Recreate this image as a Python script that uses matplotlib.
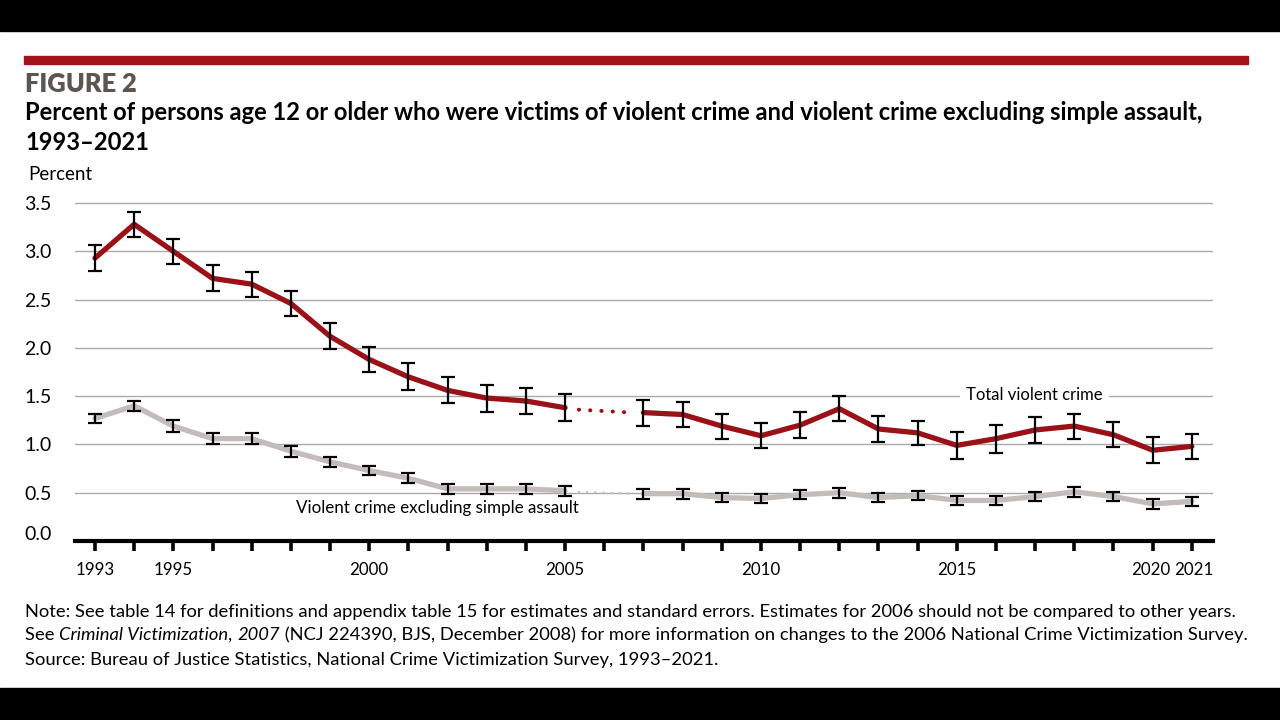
import matplotlib.pyplot as plt
import matplotlib.transforms as mtransforms
import numpy as np
from matplotlib.patches import Rectangle

# 2006 is not plotted (survey redesign), bridged by a dotted line
years = [1993, 1994, 1995, 1996, 1997, 1998, 1999, 2000, 2001, 2002, 2003,
         2004, 2005, 2007, 2008, 2009, 2010, 2011, 2012, 2013, 2014, 2015,
         2016, 2017, 2018, 2019, 2020, 2021]

total = [2.93, 3.28, 3.00, 2.72, 2.66, 2.46, 2.12, 1.88, 1.70, 1.56, 1.48,
         1.45, 1.38, 1.33, 1.31, 1.19, 1.09, 1.20, 1.37, 1.16, 1.12, 0.99,
         1.06, 1.15, 1.19, 1.10, 0.94, 0.98]
total_err = [0.135, 0.13, 0.13, 0.135, 0.13, 0.13, 0.135, 0.13, 0.14, 0.135, 0.14,
             0.135, 0.14, 0.135, 0.13, 0.13, 0.13, 0.135, 0.13, 0.13, 0.125, 0.14,
             0.145, 0.13, 0.13, 0.13, 0.135, 0.13]

serious = [1.27, 1.40, 1.19, 1.06, 1.06, 0.93, 0.82, 0.73, 0.65, 0.54, 0.54,
           0.54, 0.52, 0.49, 0.49, 0.45, 0.44, 0.48, 0.50, 0.45, 0.47, 0.42,
           0.42, 0.46, 0.51, 0.46, 0.385, 0.41]
serious_err = [0.05, 0.05, 0.06, 0.055, 0.055, 0.055, 0.05, 0.05, 0.05, 0.05, 0.05,
               0.05, 0.05, 0.05, 0.05, 0.05, 0.045, 0.05, 0.05, 0.05, 0.05, 0.05,
               0.045, 0.05, 0.05, 0.05, 0.05, 0.05]

yticks = [0.0, 0.5, 1.0, 1.5, 2.0, 2.5, 3.0, 3.5]
xtick_years = [1993, 1995, 2000, 2005, 2010, 2015, 2020, 2021]

title = "Percent of persons age 12 or older who were victims of violent crime and violent crime excluding simple assault,"
note1 = ("Note: See table 14 for definitions and appendix table 15 for estimates and standard errors. "
         "Estimates for 2006 should not be compared to other years.")
note2 = [("See ", "normal"), ("Criminal Victimization", "italic"), (", ", "normal"), ("2007", "italic"),
         (" (NCJ 224390, BJS, December 2008) for more information on changes to the 2006 National Crime Victimization Survey.",
          "normal")]
source = "Source: Bureau of Justice Statistics, National Crime Victimization Survey, 1993\u20132021."

RED = "#9b1118"
GRAY = "#c3bcbb"
FONT = ["Lato", "DejaVu Sans"]

fig = plt.figure(figsize=(12.8, 7.2), dpi=100)
W, H = 1280, 720
renderer = fig.canvas.get_renderer()


def fit(t, width_px):
    # shrink/grow a text so it spans width_px
    w = t.get_window_extent(renderer).width
    t.set_fontsize(t.get_fontsize() * width_px / w)
    return t


# letterbox bands and red rule
fig.add_artist(Rectangle((0, 1 - 31 / H), 1, 31 / H, transform=fig.transFigure, color="black", zorder=0))
fig.add_artist(Rectangle((0, 0), 1, 32 / H, transform=fig.transFigure, color="black", zorder=0))
fig.add_artist(Rectangle((24 / W, 1 - 64 / H), 1224 / W, 8 / H, transform=fig.transFigure, color="#a3141c"))

fit(fig.text(25 / W, 1 - 84 / H, "FIGURE 2", fontsize=18, fontweight="heavy", color="#5d5552",
             family=FONT, va="center"), 112)
t = fit(fig.text(25 / W, 1 - 113 / H, title, fontsize=16, fontweight="bold", family=FONT, va="center"), 1185)
fig.text(25 / W, 1 - 142 / H, "1993\u20132021", fontsize=t.get_fontsize(), fontweight="bold",
         family=FONT, va="center")
fig.text(28 / W, 1 - 175 / H, "Percent", fontsize=13.5, family=FONT, va="center")

# axes: x from 75 to 1213 px, y axis line at 541 px
ax = fig.add_axes([75 / W, 1 - 541 / H, (1213 - 75) / W, (541 - 195) / H])
ax.set_xlim(1992.49, 2021.54)
ax.set_ylim(0, 3.5 + 8 / 96)

yrs = np.array(years)
tot = np.array(total)
ser = np.array(serious)
a = yrs <= 2005
b = yrs >= 2007

for v, err, col, z in [(ser, serious_err, GRAY, 3), (tot, total_err, RED, 4)]:
    ax.plot(yrs[a], v[a], color=col, lw=3.8, solid_capstyle="round", solid_joinstyle="round", zorder=z)
    ax.plot(yrs[b], v[b], color=col, lw=3.8, solid_capstyle="round", solid_joinstyle="round", zorder=z)
    ax.errorbar(yrs, v, yerr=err, fmt="none", ecolor="black", elinewidth=1.6,
                capsize=5, capthick=1.6, zorder=z + 2)

# dotted bridges over 2006
i5 = years.index(2005)
i7 = years.index(2007)
ax.plot([2005.35, 2006.7], [total[i5] - 0.02, total[i7]], color=RED, lw=2.8,
        linestyle=(0, (0.1, 2.8)), dash_capstyle="round", zorder=4)
ax.plot([2005.35, 2006.7], [serious[i5] - 0.01, serious[i7]], color="#c8c2c2", lw=1.8,
        linestyle=(0, (0.1, 3.2)), dash_capstyle="round", zorder=3)

ax.set_yticks(yticks)
ax.set_yticklabels([f"{t:.1f}" for t in yticks], family=FONT, fontsize=14)
ax.yaxis.grid(True, color="#a9a9a9", lw=1.0)
ax.set_axisbelow(True)
ax.tick_params(axis="y", length=0, pad=17)
# the 0.0 label sits a little above the axis line
lab0 = ax.get_yticklabels()[0]
lab0.set_transform(lab0.get_transform() + mtransforms.ScaledTranslation(0, 8 / 100, fig.dpi_scale_trans))

ax.set_xticks(range(1993, 2022))
ax.set_xticklabels([str(y) if y in xtick_years else "" for y in range(1993, 2022)],
                   family=FONT, fontsize=12.2)
ax.tick_params(axis="x", direction="out", length=7, width=2.6, color="black", pad=8)
# nudge 2020/2021 apart a little, as in the original
xl = ax.get_xticklabels()
for lab, dx in [(xl[2020 - 1993], -1.5), (xl[2021 - 1993], 2.0)]:
    lab.set_transform(lab.get_transform() + mtransforms.ScaledTranslation(dx / 100, 0, fig.dpi_scale_trans))

for s in ["top", "right", "left"]:
    ax.spines[s].set_visible(False)
ax.spines["bottom"].set_linewidth(3)

fit(ax.text(2016.98, 1.51, "Total violent crime", family=FONT, fontsize=13, ha="center", va="center",
            bbox=dict(facecolor="white", edgecolor="none", pad=5), zorder=5), 136)
fit(ax.text(2001.73, 0.34, "Violent crime excluding simple assault", family=FONT, fontsize=13,
            ha="center", va="center", bbox=dict(facecolor="white", edgecolor="none", pad=1), zorder=5), 282)

n1 = fit(fig.text(25 / W, 1 - 612 / H, note1, family=FONT, fontsize=12.5, va="center"), 1212)
fs = n1.get_fontsize()

# second note line with italic title, placed piece by piece
x = 25
for txt, style in note2:
    piece = fig.text(x / W, 1 - 635 / H, txt, family=FONT, fontsize=fs, style=style, va="center")
    x += piece.get_window_extent(renderer).width

fig.text(25 / W, 1 - 660 / H, source, family=FONT, fontsize=fs, va="center")

fig.savefig("out.png", dpi=100, facecolor="white")
